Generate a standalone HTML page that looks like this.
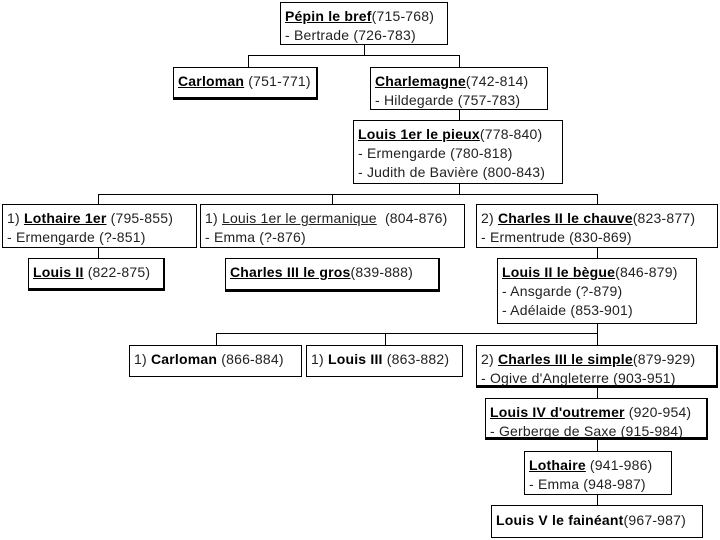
<!DOCTYPE html>
<html><head><meta charset="utf-8"><style>
body{margin:0;width:720px;height:540px;background:#fff;position:relative;overflow:hidden;font-family:"Liberation Sans",Arial,sans-serif;font-size:14px;letter-spacing:0.2px;color:#222}
.b{position:absolute;border:1px solid #000;box-sizing:border-box;padding:4px 4px 0 4px;line-height:19px;white-space:nowrap;background:#fff;overflow:hidden}
.t{border-right:2px solid #000;border-bottom:3px solid #000}
b{text-decoration:underline;color:#000}
.l{position:absolute;background:#000}
</style></head><body>
<div class="l" style="left:364px;top:45px;width:1px;height:10px"></div>
<div class="l" style="left:248px;top:55px;width:212px;height:1px"></div>
<div class="l" style="left:248px;top:55px;width:1px;height:12px"></div>
<div class="l" style="left:459px;top:55px;width:1px;height:65px"></div>
<div class="l" style="left:459px;top:184px;width:1px;height:10px"></div>
<div class="l" style="left:98px;top:194px;width:500px;height:1px"></div>
<div class="l" style="left:98px;top:194px;width:1px;height:64px"></div>
<div class="l" style="left:332px;top:194px;width:1px;height:10px"></div>
<div class="l" style="left:597px;top:194px;width:1px;height:64px"></div>
<div class="l" style="left:597px;top:324px;width:1px;height:21px"></div>
<div class="l" style="left:216px;top:333px;width:382px;height:1px"></div>
<div class="l" style="left:216px;top:333px;width:1px;height:12px"></div>
<div class="l" style="left:385px;top:333px;width:1px;height:12px"></div>
<div class="l" style="left:597px;top:388px;width:1px;height:117px"></div>

<div class="b" style="left:280px;top:2px;width:168px;height:43px"><b>Pépin le bref</b>(715-768)<br>- Bertrade (726-783)</div>
<div class="b t" style="left:173px;top:67px;width:145px;height:33px"><b>Carloman</b> (751-771)</div>
<div class="b" style="left:370px;top:67px;width:178px;height:43px"><b>Charlemagne</b>(742-814)<br>- Hildegarde (757-783)</div>
<div class="b" style="left:353px;top:120px;width:210px;height:64px"><b>Louis 1er le pieux</b>(778-840)<br>- Ermengarde (780-818)<br>- Judith de Bavière (800-843)</div>
<div class="b" style="left:2px;top:204px;width:195px;height:44px">1) <b>Lothaire 1er</b> (795-855)<br>- Ermengarde (?-851)</div>
<div class="b" style="left:200px;top:204px;width:265px;height:44px">1) <u>Louis 1er le germanique</u> &nbsp;(804-876)<br>- Emma (?-876)</div>
<div class="b" style="left:476px;top:204px;width:242px;height:44px">2) <b>Charles II le chauve</b>(823-877)<br>- Ermentrude (830-869)</div>
<div class="b t" style="left:28px;top:258px;width:137px;height:33px"><b>Louis II</b> (822-875)</div>
<div class="b t" style="left:225px;top:258px;width:215px;height:34px"><b>Charles III le gros</b>(839-888)</div>
<div class="b" style="left:497px;top:258px;width:200px;height:66px"><b>Louis II le bègue</b>(846-879)<br>- Ansgarde (?-879)<br>- Adélaide (853-901)</div>
<div class="b" style="left:129px;top:345px;width:173px;height:32px">1) <b style="text-decoration:none">Carloman</b> (866-884)</div>
<div class="b" style="left:306px;top:345px;width:157px;height:32px">1) <b style="text-decoration:none">Louis III</b> (863-882)</div>
<div class="b t" style="left:476px;top:345px;width:242px;height:43px">2) <b>Charles III le simple</b>(879-929)<br>- Ogive d'Angleterre (903-951)</div>
<div class="b t" style="left:485px;top:398px;width:223px;height:42px"><b>Louis IV d'outremer</b> (920-954)<br>- Gerberge de Saxe (915-984)</div>
<div class="b" style="left:524px;top:451px;width:148px;height:44px"><b>Lothaire</b> (941-986)<br>- Emma (948-987)</div>
<div class="b" style="left:491px;top:505px;width:212px;height:33px;padding-top:5px"><b style="text-decoration:none">Louis V le fainéant</b>(967-987)</div>
</body></html>
